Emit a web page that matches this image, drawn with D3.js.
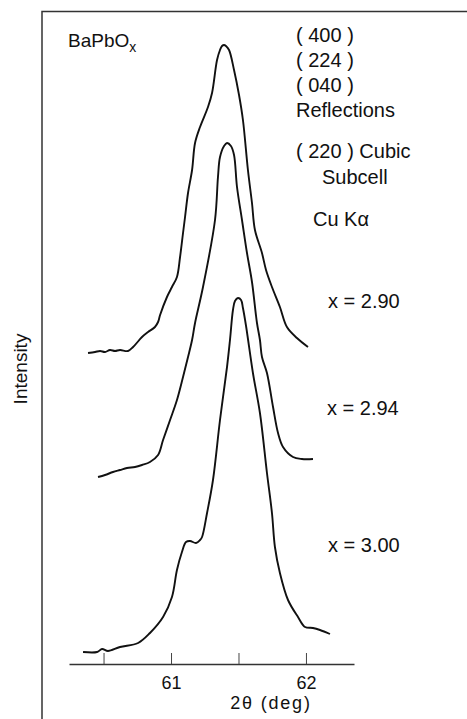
<!DOCTYPE html>
<html>
<head>
<meta charset="utf-8">
<script src="https://cdn.jsdelivr.net/npm/d3@7"></script>
<style>
  html, body { margin: 0; padding: 0; background: #fff; }
  svg { display: block; font-family: "Liberation Sans", Arial, Helvetica, sans-serif; }
</style>
</head>
<body>
<svg id="chart" width="467" height="719"></svg>
<script>
// ---- Data ----
const xTickValues = [60.5, 61, 61.5, 62];
const seriesLabels = ["x = 2.90", "x = 2.94", "x = 3.00"];
const offsets = [62, 37, 2]; // vertical stacking offsets (arb. units)

const theta290 = [60.385,60.437,60.474,60.511,60.548,60.585,60.622,60.681,60.719,60.785,60.830,60.881,60.904,60.919,60.970,61.007,61.044,61.067,61.089,61.104,61.126,61.156,61.178,61.215,61.274,61.304,61.341,61.363,61.378,61.393,61.407,61.430,61.467,61.504,61.533,61.570,61.600,61.622,61.674,61.704,61.748,61.807,61.859,61.933,62.015];
const int290   = [0.2,0.4,0.6,0.4,0.8,0.6,0.8,0.6,1.4,3.4,4.4,5.4,6.4,7.8,11.4,13.4,15.4,19.4,24.2,27.4,32.2,36.8,42.2,45.4,49.4,52.2,58.8,60.8,61.6,61.8,61.6,60.8,56.8,51.8,46.8,36.8,30.2,24.8,20.2,16.8,13.4,9.4,5.4,3.2,1.4];

const theta294 = [60.459,60.511,60.570,60.622,60.674,60.733,60.785,60.844,60.904,60.941,60.993,61.044,61.089,61.126,61.156,61.178,61.237,61.326,61.348,61.363,61.393,61.415,61.444,61.467,61.489,61.526,61.563,61.600,61.637,61.659,61.674,61.711,61.756,61.793,61.830,61.904,61.970,62.052];
const int294   = [0.4,0.8,1.4,1.8,2.2,2.4,2.8,3.4,4.8,7.8,11.8,15.8,20.4,24.4,27.8,31.2,38.4,51.8,60.4,64.4,66.6,67.2,66.6,64.8,58.4,51.8,45.2,39.4,31.2,27.8,24.4,21.2,14.4,9.2,6.4,4.4,4.0,4.0];

const theta300 = [60.348,60.452,60.489,60.533,60.622,60.756,60.844,60.941,61.007,61.044,61.081,61.111,61.141,61.185,61.215,61.230,61.267,61.311,61.363,61.415,61.437,61.459,61.474,61.496,61.519,61.533,61.556,61.607,61.659,61.711,61.748,61.770,61.807,61.867,61.941,61.993,62.052,62.104,62.178];
const int300   = [0.4,0.4,1.0,0.6,1.4,2.2,4.2,7.4,11.4,16.8,20.4,22.4,22.6,22.2,22.8,23.4,28.2,34.8,46.8,57.4,62.8,68.8,70.6,71.2,70.8,69.2,65.6,56.2,48.2,36.2,28.2,21.4,16.2,10.8,7.4,5.4,5.2,4.8,4.0];

const thetas = [theta290, theta294, theta300];
const intensities = [int290, int294, int300];

// ---- Drawing ----
const svg = d3.select("#chart");
svg.append("rect").attr("width", 467).attr("height", 719).attr("fill", "#fff");

const x = d3.scaleLinear().domain([60.244, 62.356]).range([69, 354]);
const y = d3.scaleLinear().domain([0, 125]).range([664, 39]);

// frame (top + left)
svg.append("path")
  .attr("d", "M42,719 L42,11.5 L467,11.5")
  .attr("fill", "none").attr("stroke", "#333").attr("stroke-width", 1.5);

// curves
const line = d3.line()
  .x(d => x(d[0]))
  .y(d => y(d[1]))
  .curve(d3.curveCatmullRom.alpha(0.5));

thetas.forEach((th, i) => {
  const pts = th.map((t, j) => [t, intensities[i][j] + offsets[i]]);
  svg.append("path")
    .datum(pts)
    .attr("d", line)
    .attr("fill", "none")
    .attr("stroke", "#111")
    .attr("stroke-width", 1.9)
    .attr("stroke-linejoin", "round");
});

// x axis
const axis = d3.axisBottom(x)
  .tickValues(xTickValues)
  .tickSize(-11)
  .tickSizeOuter(0)
  .tickPadding(12)
  .tickFormat(d => Number.isInteger(d) ? d : "");
const gx = svg.append("g").attr("transform", "translate(0,664)").call(axis);
gx.select(".domain").attr("stroke", "#333").attr("stroke-width", 1.5);
gx.selectAll(".tick line").attr("stroke", "#444").attr("stroke-width", 1);
gx.selectAll(".tick text").attr("font-size", 18).attr("fill", "#111")
  .attr("font-family", "'Liberation Sans', Arial, sans-serif");

// axis titles
svg.append("text")
  .attr("x", 271).attr("y", 709)
  .attr("text-anchor", "middle")
  .attr("font-size", 18).attr("letter-spacing", 1.8).attr("fill", "#111")
  .text("2θ (deg)");

svg.append("text")
  .attr("transform", "translate(27,369) rotate(-90)")
  .attr("text-anchor", "middle")
  .attr("font-size", 19).attr("fill", "#111")
  .text("Intensity");

// annotations
const bap = svg.append("text").attr("x", 68).attr("y", 47).attr("font-size", 19).attr("fill", "#111");
bap.append("tspan").text("BaPbO");
bap.append("tspan").attr("dy", 5).attr("font-size", 14).text("x");

const notes = [
  ["( 400 )", 296, 42],
  ["( 224 )", 296, 67],
  ["( 040 )", 296, 92],
  ["Reflections", 296, 117],
  ["( 220 ) Cubic", 296, 158],
  ["Subcell", 322, 184],
  ["Cu Kα", 313, 226]
];
notes.forEach(n => {
  svg.append("text").attr("x", n[1]).attr("y", n[2])
    .attr("font-size", 20).attr("fill", "#111").text(n[0]);
});

const labelPos = [[328, 308], [327, 415], [328, 552]];
seriesLabels.forEach((s, i) => {
  svg.append("text").attr("x", labelPos[i][0]).attr("y", labelPos[i][1])
    .attr("font-size", 20).attr("fill", "#111").text(s);
});
</script>
</body>
</html>
